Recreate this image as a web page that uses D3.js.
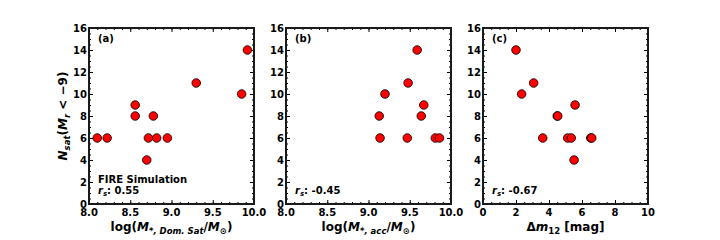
<!DOCTYPE html>
<html>
<head>
<script src="https://d3js.org/d3.v7.min.js"></script>
<style>
  body { margin: 0; background: #fff; }
  text { font-family: "DejaVu Sans", sans-serif; font-weight: bold; fill: #000; }
</style>
</head>
<body>
<script>
// panel (a): log stellar mass of dominant satellite vs N_sat
var xA = [8.10, 8.22, 8.56, 8.56, 8.70, 8.72, 8.78, 8.82, 8.95, 9.30, 9.85, 9.92];
var yA = [6, 6, 9, 8, 4, 6, 8, 6, 6, 11, 10, 14];
// panel (b): log accreted stellar mass
var xB = [9.13, 9.14, 9.20, 9.47, 9.48, 9.59, 9.64, 9.67, 9.81, 9.86];
var yB = [8, 6, 10, 6, 11, 14, 8, 9, 6, 6];
// panel (c): magnitude gap
var xC = [2.00, 2.34, 3.07, 3.62, 4.50, 4.53, 5.13, 5.35, 5.58, 5.52, 6.53, 6.59];
var yC = [14, 10, 11, 6, 8, 8, 6, 6, 9, 4, 6, 6];

var yTicks = [0, 2, 4, 6, 8, 10, 12, 14, 16];
var massTicks = [8.0, 8.5, 9.0, 9.5, 10.0];
var gapTicks = [0, 2, 4, 6, 8, 10];

var panels = [
  {left: 89, x: xA, y: yA, dom: [8, 10], ticks: massTicks, fmt: d3.format(".1f"), minor: 0.1, tag: "(a)", rs: "0.55", fire: true},
  {left: 286, x: xB, y: yB, dom: [8, 10], ticks: massTicks, fmt: d3.format(".1f"), minor: 0.1, tag: "(b)", rs: "-0.45"},
  {left: 483, x: xC, y: yC, dom: [0, 10], ticks: gapTicks, fmt: d3.format("d"), minor: 0.5, tag: "(c)", rs: "-0.67"}
];

var width = 720, height = 240;
var pw = 165, plotTop = 28, plotBottom = 204;

var svg = d3.select("body").append("svg")
  .attr("width", width)
  .attr("height", height);

var y = d3.scaleLinear().domain([0, 16]).range([plotBottom, plotTop]);

panels.forEach(function(p, i) {
  var x = d3.scaleLinear().domain(p.dom).range([p.left, p.left + pw]);
  var g = svg.append("g");

  var xMinor = d3.range(p.dom[0], p.dom[1] + 1e-9, p.minor);
  var yMinor = d3.range(0, 16.001, 0.5);

  // inward ticks on all four sides
  g.append("g").attr("transform", "translate(0," + plotBottom + ")")
    .call(d3.axisTop(x).tickValues(xMinor).tickSize(2).tickFormat(""));
  g.append("g").attr("transform", "translate(0," + plotTop + ")")
    .call(d3.axisBottom(x).tickValues(xMinor).tickSize(2).tickFormat(""));
  g.append("g").attr("transform", "translate(0," + plotBottom + ")")
    .call(d3.axisTop(x).tickValues(p.ticks).tickSize(4).tickFormat(""));
  g.append("g").attr("transform", "translate(0," + plotTop + ")")
    .call(d3.axisBottom(x).tickValues(p.ticks).tickSize(4).tickFormat(""));
  g.append("g").attr("transform", "translate(" + p.left + ",0)")
    .call(d3.axisRight(y).tickValues(yMinor).tickSize(2).tickFormat(""));
  g.append("g").attr("transform", "translate(" + (p.left + pw) + ",0)")
    .call(d3.axisLeft(y).tickValues(yMinor).tickSize(2).tickFormat(""));
  g.append("g").attr("transform", "translate(" + p.left + ",0)")
    .call(d3.axisRight(y).tickValues(yTicks).tickSize(4).tickFormat(""));
  g.append("g").attr("transform", "translate(" + (p.left + pw) + ",0)")
    .call(d3.axisLeft(y).tickValues(yTicks).tickSize(4).tickFormat(""));
  g.selectAll(".domain").remove();
  g.selectAll(".tick line").attr("stroke", "#000").attr("stroke-width", 1);

  // tick labels
  g.selectAll(".xl").data(p.ticks).enter().append("text")
    .attr("x", function(d) { return x(d); })
    .attr("y", plotBottom + 12)
    .attr("text-anchor", "middle")
    .style("font-size", "10px")
    .text(p.fmt);
  g.selectAll(".yl").data(yTicks).enter().append("text")
    .attr("x", p.left - 2)
    .attr("y", function(d) { return y(d) + 3.5; })
    .attr("text-anchor", "end")
    .style("font-size", "10px")
    .text(function(d) { return d; });

  // frame
  g.append("rect")
    .attr("x", p.left).attr("y", plotTop)
    .attr("width", pw).attr("height", plotBottom - plotTop)
    .attr("fill", "none").attr("stroke", "#1a1a1a").attr("stroke-width", 2);

  // points
  g.selectAll("circle").data(p.x).enter().append("circle")
    .attr("cx", function(d) { return x(d); })
    .attr("cy", function(d, j) { return y(p.y[j]); })
    .attr("r", 4.3)
    .attr("fill", "red")
    .attr("stroke", "#000")
    .attr("stroke-width", 0.8);

  // annotations
  g.append("text").attr("x", p.left + 9).attr("y", plotTop + 14)
    .style("font-size", "10px").text(p.tag);
  if (p.fire) {
    g.append("text").attr("x", p.left + 9).attr("y", 183)
      .style("font-size", "10px").text("FIRE Simulation");
  }
  var rs = g.append("text").attr("x", p.left + 9).attr("y", 194)
    .style("font-size", "10px");
  rs.append("tspan").style("font-style", "italic").text("r");
  rs.append("tspan").attr("dy", 2).style("font-size", "7px").style("font-style", "italic").text("s");
  rs.append("tspan").attr("dy", -2).text(": " + p.rs);

  // x labels
  var xl = g.append("text")
    .attr("x", p.left + pw / 2).attr("y", 231)
    .attr("text-anchor", "middle")
    .style("font-size", "12px");
  if (i == 0) {
    xl.append("tspan").text("log(");
    xl.append("tspan").style("font-style", "italic").text("M");
    xl.append("tspan").attr("dy", 3).style("font-size", "8.5px").style("font-style", "italic").text("*, Dom. Sat");
    xl.append("tspan").attr("dy", -3).text("/");
    xl.append("tspan").style("font-style", "italic").text("M");
    xl.append("tspan").attr("dy", 3).style("font-size", "8.5px").text("\u2299");
    xl.append("tspan").attr("dy", -3).text(")");
  } else if (i == 1) {
    xl.append("tspan").text("log(");
    xl.append("tspan").style("font-style", "italic").text("M");
    xl.append("tspan").attr("dy", 3).style("font-size", "8.5px").style("font-style", "italic").text("*, acc");
    xl.append("tspan").attr("dy", -3).text("/");
    xl.append("tspan").style("font-style", "italic").text("M");
    xl.append("tspan").attr("dy", 3).style("font-size", "8.5px").text("\u2299");
    xl.append("tspan").attr("dy", -3).text(")");
  } else {
    xl.append("tspan").text("\u0394");
    xl.append("tspan").style("font-style", "italic").text("m");
    xl.append("tspan").attr("dy", 3).style("font-size", "8.5px").text("12");
    xl.append("tspan").attr("dy", -3).text(" [mag]");
  }
});

// y label
var yl = svg.append("text")
  .attr("transform", "translate(67,116) rotate(-90)")
  .attr("text-anchor", "middle")
  .style("font-size", "12px");
yl.append("tspan").style("font-style", "italic").text("N");
yl.append("tspan").attr("dy", 3).style("font-size", "8.5px").style("font-style", "italic").text("sat");
yl.append("tspan").attr("dy", -3).text("(");
yl.append("tspan").style("font-style", "italic").text("M");
yl.append("tspan").attr("dy", 3).style("font-size", "8.5px").style("font-style", "italic").text("r");
yl.append("tspan").attr("dy", -3).text(" < \u22129)");
</script>
</body>
</html>
